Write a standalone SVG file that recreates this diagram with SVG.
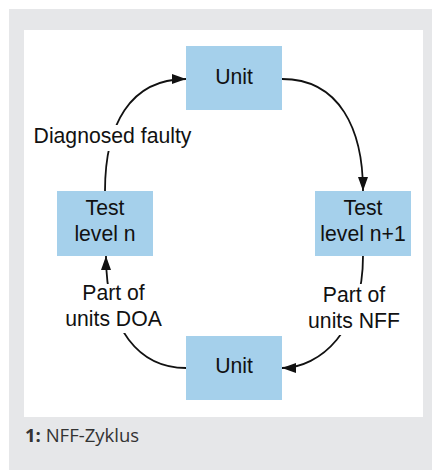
<svg xmlns="http://www.w3.org/2000/svg" width="433" height="470" viewBox="0 0 433 470">
  <style>
    .box { fill: #a5d0eb; }
    .lbl { font-family: "Liberation Sans", Arial, sans-serif; font-size: 21.2px; fill: #111; text-anchor: middle; }
    .edge { fill: none; stroke: #111; stroke-width: 1.8; }
    .cap { font-family: "Open Sans", "Noto Sans", sans-serif; font-size: 18.5px; fill: #333; }
  </style>
  <defs>
    <marker id="arr" viewBox="0 0 14 10" refX="14" refY="5" markerWidth="14" markerHeight="10" markerUnits="userSpaceOnUse" orient="auto">
      <path d="M0,0 L14,5 L0,10 Z" fill="#111"/>
    </marker>
  </defs>
  <rect x="9" y="9" width="423" height="461" fill="#e6e7e9"/>
  <rect x="24" y="30" width="399" height="387" fill="#ffffff"/>
  <g id="connectors">
    <path class="edge" d="M105,191 C105,125 130,79 186,79" marker-end="url(#arr)"/>
    <path class="edge" d="M282,79 C340,79 363,130 363,191" marker-end="url(#arr)"/>
    <path class="edge" d="M363,256 C363,330 320,368 282,368" marker-end="url(#arr)"/>
    <path class="edge" d="M186,368 C140,368 106,330 106,256" marker-end="url(#arr)"/>
  </g>
  <g id="label-diagnosed">
    <rect x="30" y="125" width="166" height="26" fill="#ffffff"/>
    <text class="lbl" x="112.5" y="143">Diagnosed faulty</text>
  </g>
  <g id="label-doa">
    <rect x="61" y="284" width="106" height="49" fill="#ffffff"/>
    <text class="lbl" x="113.5" y="300">Part of</text>
    <text class="lbl" x="113.5" y="326">units DOA</text>
  </g>
  <g id="label-nff">
    <rect x="304" y="284" width="100" height="51" fill="#ffffff"/>
    <text class="lbl" x="354" y="302">Part of</text>
    <text class="lbl" x="354" y="328">units NFF</text>
  </g>
  <g id="unit-top">
    <rect class="box" x="186" y="46" width="96" height="64"/>
    <text class="lbl" x="234" y="84">Unit</text>
  </g>
  <g id="test-n">
    <rect class="box" x="57" y="191" width="96" height="65"/>
    <text class="lbl" x="105" y="215">Test</text>
    <text class="lbl" x="105" y="241">level n</text>
  </g>
  <g id="test-n1">
    <rect class="box" x="315" y="191" width="96" height="65"/>
    <text class="lbl" x="363" y="215">Test</text>
    <text class="lbl" x="363" y="241">level n+1</text>
  </g>
  <g id="unit-bottom">
    <rect class="box" x="186" y="336" width="96" height="64"/>
    <text class="lbl" x="234" y="373">Unit</text>
  </g>
  <text class="cap" x="25" y="442"><tspan font-weight="bold">1:</tspan> NFF-Zyklus</text>
</svg>
